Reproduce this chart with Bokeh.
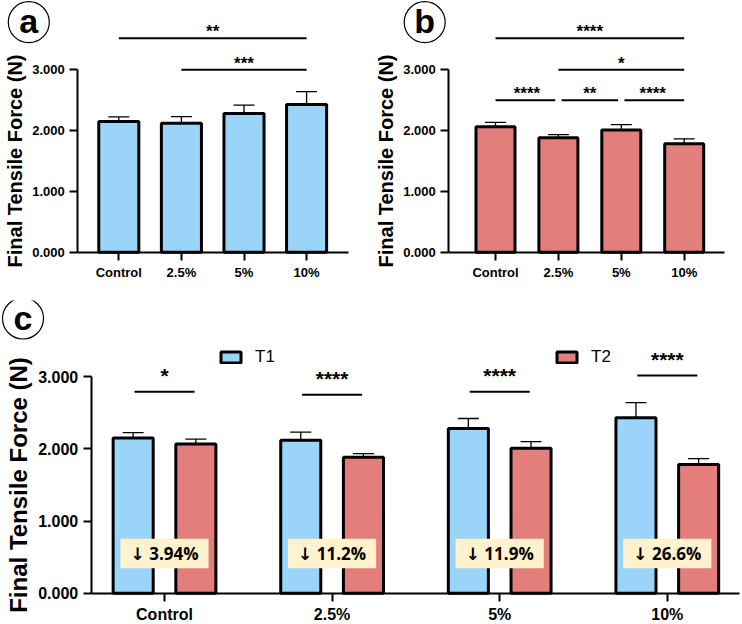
from bokeh.plotting import figure
from bokeh.models import (Range1d, FixedTicker, PrintfTickFormatter, Whisker,
                          ColumnDataSource, Legend, LegendItem, TeeHead)
from bokeh.layouts import column, row
from bokeh.embed import file_html
from bokeh.resources import INLINE
from bokeh.core.properties import value

# ---- data -------------------------------------------------------------
categories = ["Control", "2.5%", "5%", "10%"]
t1_mean = [2.150, 2.120, 2.280, 2.430]
t1_sd = [0.075, 0.110, 0.140, 0.210]
t2_mean = [2.065, 1.883, 2.009, 1.784]
t2_sd = [0.070, 0.050, 0.090, 0.080]
drop_labels = ["\u2193 3.94%", "\u2193 11.2%", "\u2193 11.9%", "\u2193 26.6%"]

# significance brackets: (from group, to group, bracket height, stars)
sig_a = [(0, 3, 3.52, "**"), (1, 3, 3.00, "***")]
sig_b = [(0, 3, 3.52, "****"), (1, 3, 3.00, "*"),
         (0, 1, 2.50, "****"), (1, 2, 2.50, "**"), (2, 3, 2.50, "****")]
# T1 vs T2 within each group: bracket height, stars
sig_c_height = [2.79, 2.75, 2.79, 3.015]
sig_c_stars = ["*", "****", "****", "****"]

FONT = "Liberation Sans"
BLUE = "#9AD5F9"
RED = "#E37E7A"
CREAM = "#FFF2CC"


def make_fig(w, h, tick0, spacing, unit, axis_py, yaxis_px, xaxis_end_px,
             tick_size, label_size, cat_size, label_standoff):
    """Panel whose frame fills the whole figure; both axes sit at fixed spots."""
    p = figure(width=w, height=h,
               x_range=Range1d(-tick0 / spacing, (w - tick0) / spacing),
               y_range=Range1d(-(h - axis_py) / unit, axis_py / unit),
               output_backend="svg", toolbar_location=None,
               min_border_left=0, min_border_right=0, min_border_top=0,
               min_border_bottom=0)
    p.outline_line_color = None
    p.grid.visible = False
    p.background_fill_color = "white"

    y0 = (yaxis_px - tick0) / spacing
    yax = p.yaxis[0]
    yax.fixed_location = y0
    yax.bounds = (0, 3)
    yax.ticker = FixedTicker(ticks=[0, 1, 2, 3])
    yax.formatter = PrintfTickFormatter(format="%.3f")
    yax.axis_label = "Final Tensile Force (N)"
    yax.axis_label_text_font = FONT
    yax.axis_label_text_font_style = "bold"
    yax.axis_label_text_font_size = f"{label_size}px"
    yax.axis_label_text_color = "black"
    yax.axis_label_standoff = label_standoff

    xax = p.xaxis[0]
    xax.fixed_location = 0
    xax.bounds = (y0, (xaxis_end_px - tick0) / spacing)
    xax.ticker = FixedTicker(ticks=list(range(len(categories))))
    xax.major_label_overrides = {i: c for i, c in enumerate(categories)}
    xax.major_label_text_font_size = f"{cat_size}px"

    for ax in (yax, xax):
        ax.axis_line_width = 2
        ax.axis_line_color = "black"
        ax.major_tick_line_width = 2
        ax.major_tick_line_color = "black"
        ax.major_tick_out = 8
        ax.major_tick_in = 0
        ax.minor_tick_line_color = None
        ax.major_label_text_font = FONT
        ax.major_label_text_font_style = "bold"
        ax.major_label_text_color = "black"
        ax.major_label_standoff = 5
    yax.major_label_text_font_size = f"{tick_size}px"
    return p


def panel_letter(p, letter, cx, cy, spacing, unit, tick0, axis_py, size):
    x = (cx - tick0) / spacing
    y = (axis_py - cy) / unit
    p.scatter(x=[x], y=[y], marker="circle", size=size, fill_color="white",
              line_color="black", line_width=1.2)
    p.text(x=[x], y=[y], text=[letter], text_align="center",
           text_baseline="middle", text_font=value(FONT),
           text_font_style="bold", text_font_size="34px", y_offset=-1)


def brackets(p, sig, gap, font_size, y_off):
    x0 = [a + (gap if a > 0 and any(s[1] == a and s[2] == lvl for s in sig) else 0)
          for a, b, lvl, _ in sig]
    x1 = [b - (gap if any(s[0] == b and s[2] == lvl for s in sig) else 0)
          for a, b, lvl, _ in sig]
    lv = [s[2] for s in sig]
    p.segment(x0=x0, y0=lv, x1=x1, y1=lv, line_color="black", line_width=2)
    p.text(x=[(a + b) / 2 for a, b, _, _ in sig], y=lv, text=[s[3] for s in sig],
           text_align="center", text_baseline="bottom", y_offset=y_off,
           text_font=value(FONT), text_font_style="bold",
           text_font_size=f"{font_size}px")


def single_panel(mean, sd, color, tick0, spacing, bar_w, axis_end, sig, letter, letter_cx):
    W, H, AXIS_PY, UNIT = 371, 300, 251.7, 60.8
    p = make_fig(W, H, tick0, spacing, UNIT, AXIS_PY, 77.3, axis_end, 13, 20, 13, 3)
    xs = list(range(len(categories)))
    p.vbar(x=xs, top=mean, width=bar_w, bottom=0, fill_color=color,
           line_color="black", line_width=3)
    src = ColumnDataSource(dict(x=xs, lo=mean, hi=[m + s for m, s in zip(mean, sd)]))
    p.add_layout(Whisker(base="x", lower="lo", upper="hi", source=src,
                         line_color="black", line_width=1.3,
                         upper_head=TeeHead(size=21, line_width=1.3, line_color="black"),
                         lower_head=None))
    brackets(p, sig, 0.05, 17, 3)
    panel_letter(p, letter, letter_cx, 21.7, spacing, UNIT, tick0, AXIS_PY, 41)
    return p


pa = single_panel(t1_mean, t1_sd, BLUE, 118.3, 62.6, 0.64, 348.3, sig_a, "a", 28.3)
pb = single_panel(t2_mean, t2_sd, RED, 124.0, 62.9, 0.62, 353.3, sig_b, "b", 53.2)

# ---- panel c: T1 vs T2 per group ------------------------------------
WC, HC, AXIS_PYC, UNITC = 742, 324, 292.7, 72.2
TICK0C, SPC = 164.0, 167.6
pc = make_fig(WC, HC, TICK0C, SPC, UNITC, AXIS_PYC, 90.7, 739.0, 16, 24, 16, 3)
off, bw = 0.187, 0.239
g = list(range(len(categories)))
x1 = [i - off for i in g]
x2 = [i + off for i in g]
r1 = pc.vbar(x=x1, top=t1_mean, width=bw, fill_color=BLUE, line_color="black", line_width=3)
r2 = pc.vbar(x=x2, top=t2_mean, width=bw, fill_color=RED, line_color="black", line_width=3)
for xs, m, s in ((x1, t1_mean, t1_sd), (x2, t2_mean, t2_sd)):
    src = ColumnDataSource(dict(x=xs, lo=[a - b for a, b in zip(m, s)],
                                hi=[a + b for a, b in zip(m, s)]))
    pc.add_layout(Whisker(base="x", lower="lo", upper="hi", source=src,
                          line_color="black", line_width=1.3,
                          upper_head=TeeHead(size=21, line_width=1.3, line_color="black"),
                          lower_head=TeeHead(size=21, line_width=1.3, line_color="black")))

# percentage-drop call-outs
half = 0.263
pc.quad(left=[i - half for i in g], right=[i + half for i in g],
        bottom=0.346, top=0.753, fill_color=CREAM, line_color=None)
pc.text(x=g, y=[0.55] * len(g), text=drop_labels, text_align="center",
        text_baseline="middle", text_font=value("'Open Sans', 'DejaVu Sans'"),
        text_font_style="bold", text_font_size="17px")

# T1 vs T2 brackets
hw = 0.179
pc.segment(x0=[i - hw for i in g], y0=sig_c_height, x1=[i + hw for i in g],
           y1=sig_c_height, line_color="black", line_width=2)
pc.text(x=g, y=sig_c_height, text=sig_c_stars, text_align="center",
        text_baseline="bottom", y_offset=-5, text_font=value(FONT),
        text_font_style="bold", text_font_size="21px")

panel_letter(pc, "c", 22.5, 18.0, SPC, UNITC, TICK0C, AXIS_PYC, 41)

for item, x, in ((LegendItem(label="T1", renderers=[r1]), 218),
                 (LegendItem(label="T2", renderers=[r2]), 554)):
    lg = Legend(items=[item], location=(x, HC - 67), padding=0, margin=0,
                border_line_color=None, background_fill_alpha=0,
                glyph_width=25, glyph_height=14, label_height=14,
                label_standoff=12, label_text_font=FONT,
                label_text_color="black",
                label_text_font_size="17px", label_text_baseline="middle")
    pc.add_layout(lg)

layout = column(row(pa, pb), pc)
open("out.html", "w").write(file_html(layout, INLINE))
